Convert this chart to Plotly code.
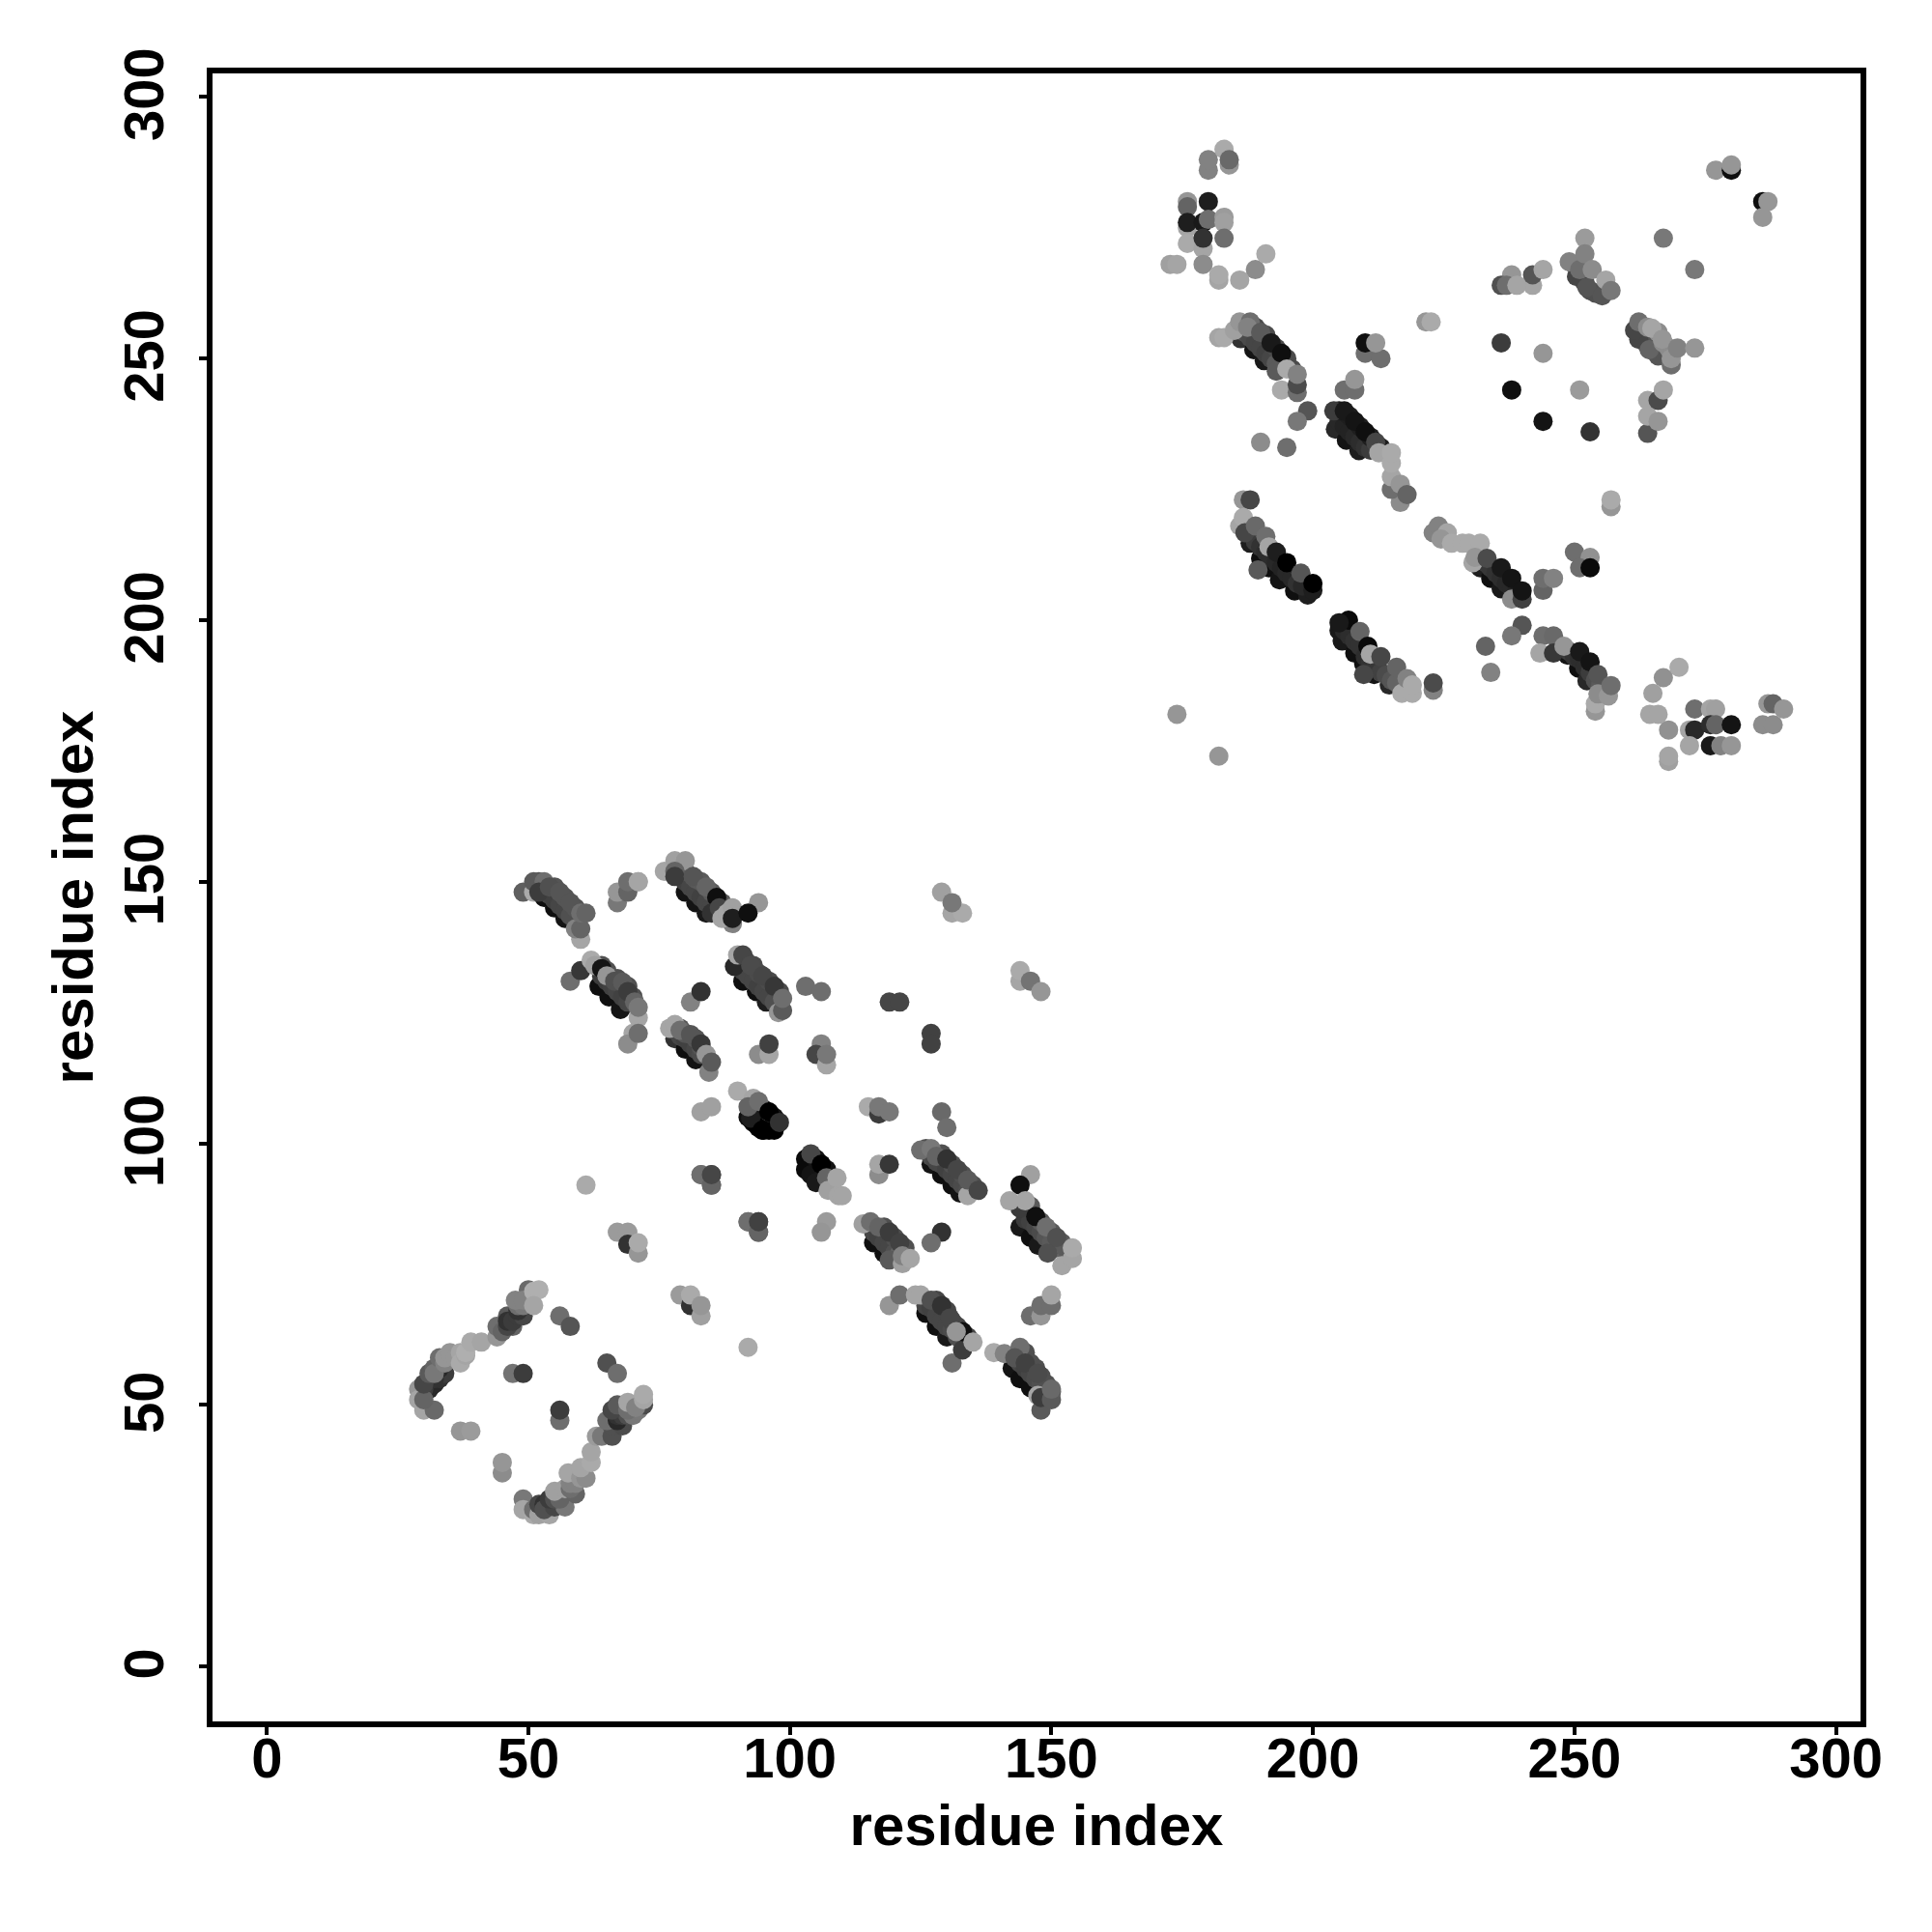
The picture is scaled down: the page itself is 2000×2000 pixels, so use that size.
import plotly.graph_objects as go

# Each point: (residue i, residue j, grey level 0-175)
arc_lower_left = [(30,52,50),(31,53,40),(32,54,40),(33,55,50),(34,56,60),(31,55,30),(33,57,40),(30,53,60),(32,55,50),(29,53,150),(29,51,165),(30,49,165),(32,49,105),(30,51,100),(30,54,70),(31,56,90),(32,57,100),(32,56,120),(33,59,110),(34,58,130),(34,59,150),(35,60,150),(36,59,150),(37,60,165),(37,58,170),(38,59.5,165),(38,60,175),(39,62,170),(41,62,165),(44,63,150),(44,65,110),(45,64,100),(46,67,90),(47,65,100),(46,65,70),(46,66,50),(47,66,60),(48,67,60),(49,67,70),(48,68,50),(48,69,110),(49,69,120),(47.5,70,130),(50,72,105),(49,70,130),(51,71.7,175),(52,72,175),(51,69,165)]
arc_lower_right = [(49,32,120),(49,30,165),(51,29,170),(51,30,110),(52,29,160),(54,29,165),(52,31,70),(53,31,50),(54,31,60),(53,30,80),(55,30.5,70),(57,30.5,120),(54,32,60),(56,33,40),(55,32,80),(56,32,100),(55,33.5,160),(57,34,160),(59,33,100),(58,34,110),(58,35,130),(59,35,130),(57.6,37,165),(60,36,150),(61,36,140),(60,38,165),(62,39,170),(62,41,165),(63,44,155),(64,44,120),(66,44,80),(66,46,80),(65,47,110),(68,46,75),(67,47,40),(67,48,50),(68,48,60),(69,48,80),(66,49,70),(67,50,90),(70,48,120),(71,49,120),(69,49,110),(70,50,110),(69,50.5,165),(72,50,75),(70.5,49.5,130),(72,51,165),(72,52,170)]
isolated_low = [(83,94,100),(85,92,105),(85,94,70),(92,85,110),(94,83,100),(94,85,65),(67,83,155),(69,83,155),(69,80.7,50),(71,79,150),(71,81,170),(79,71,155),(81,69,50),(81,71,170),(83,67,160),(83,69,150),(92,61,170),(56,67,110),(58,65,85),(47,56,115),(49,56,60),(65,58,80),(67,56,110),(56,47,110),(56,49,60),(37,45,150),(39,45,155),(45,37,140),(45,39,150),(61,92,170)]
strand_a = [(53,147,15),(55,145,15),(57,143,20),(53,148.5,65),(54,147.5,70),(55,146.5,65),(56,145.5,70),(57,144.5,70),(58,143.5,80),(52,150,85),(55,149,85),(57,147,85),(59,145,85),(49,148,95),(51,148,170),(51,150,90),(53,150,110),(52,148,60),(54,149,80),(56,148,85),(58,146,85),(60,139,165),(59,141,130),(60,141,100),(60,144,110),(61,144,100)]
cluster_a = [(71,150,165),(67,146,120),(67,148,150),(69,148,100),(69,150,110),(71,150,165)]
strand_b = [(80,148,20),(82,146,20),(84,144,25),(79,151,70),(80,150,65),(81,149,70),(82,148,70),(83,147,65),(84,146,70),(85,145,70),(79,153,90),(80,152,90),(82,150.5,90),(83,150,90),(85,148,90),(87,146,90),(76,152,165),(78,154,160),(80,154,150),(78,152,100),(78,151,60),(81.5,151,85),(84,149,100),(86,147,15),(85,144,50),(86.5,145,70),(89,142,130),(87,143,165),(88,144,165),(89,145,160),(89,143,30),(94,146,150),(92,144,15)]
top_right_a = [(129,148,160),(131,144,165),(133,144,170),(131,146,120),(144,131,165),(144,133,170),(146,131,115),(148,129,150)]
strand_c = [(63.5,130,15),(65.4,128,15),(67.6,125.6,20),(64,132,60),(65,131,60),(66,130,65),(67,129,70),(68,128,65),(69,127,70),(64,134,80),(65,133,80),(67,131.5,80),(69,130,80),(70,128,80),(58,131,110),(60,133,55),(62,135,170),(62.7,134,160),(64,133.4,20),(65,132,150),(66.5,131,80),(68,130.8,90),(69,129,60),(71,124,165),(70.3,127,100),(71,126,120),(70,121,165),(69,119,140),(71,121,110)]
strand_d = [(91,131,15),(93.6,129,15),(95.5,127,30),(91,133,65),(92,132,70),(93,131,70),(94,130,65),(95,129,70),(96,128,70),(97,127,80),(91.5,135,75),(93,134,75),(94,132.5,75),(96,131,75),(98,129,75),(89.4,133.8,40),(90,136,165),(91,136,70),(92.5,134,75),(94.8,132,70),(97,130,55),(97.8,125,150),(98.6,125.4,90),(98.6,127.7,110)]
mid_pairs = [(103,130,110),(106,129,110),(81,127,130),(83,129,50),(119,127,70),(121,127,70),(127,121,65),(127,119,65),(94,117,140),(96,117,165),(96,119,65),(106,119,130),(105,117,70),(107,115,165),(107,117,120)]
strand_e = [(78,120,50),(80,118,15),(82,116,20),(79,120.5,70),(80,120,65),(81,119,65),(82,118,70),(83,117,75),(79,122,85),(80,121,85),(82,120,85),(83,118.5,85),(77,122,165),(78,122.7,165),(79,121.6,110),(81,120.8,85),(83,119,55),(84.5,113.6,130),(84,117,150),(85,115.5,90)]
strand_f = [(92,105,15),(93,104,0),(94,103,0),(95,102.5,0),(96,102.5,0),(94,107,20),(95,106.5,20),(97,105,20),(92.5,104.8,30),(94.7,102.5,0),(97,102.5,0),(90,110,170),(93,108.6,165),(92,107,100),(94,108,110),(96,106,0),(98,104,50)]
mid_pairs_b = [(83,106,160),(85,107,160),(115,107,170),(117,105.6,60),(117,107,120),(119,106,120),(129,106,105),(130,103,110),(117,94,140),(117,96,165),(119,96,55),(83,94,110),(85,92,100),(85,94,70),(92,85,110),(94,83,100),(94,85,65),(107,85,155),(106,83,150),(129,83,50),(127,81,110)]
strand_g = [(127,96,20),(129,94,15),(131,92,15),(132.5,90.5,20),(127,97.5,75),(128,96.5,70),(129,96,70),(130,95,65),(131,94,70),(132,93,70),(133,92,75),(134,91,80),(126,99,80),(129,98,80),(131,96,80),(133,94,80),(135,92,80),(125,98.7,110),(127,99,120),(128,97.5,100),(130,97,50),(132,95,70),(134,90,165),(134,93,90),(136,91,70)]
strand_g2 = [(103,97,10),(103,95,10),(104,94,20),(105,92.5,25),(105,97,20),(107,95,20),(104,98,70),(106,96,0),(107,93.4,100),(107.3,91,160),(109.3,90,165),(110,90,165),(109,93.4,165)]
strand_h = [(144,84,25),(146,82,15),(147.5,80.5,25),(145,85.5,60),(146,85,65),(147,84,70),(148,83,75),(149,82,85),(150,81,90),(151,80,100),(146,88,90),(148,85,90),(150,83,90),(152,81,90),(153,79.5,90),(144,87.6,60),(146,94,160),(144,92,15),(142,89,165),(145,89,165),(147,86,15),(149,84,110),(149.3,79,80),(151,82,80),(152,76.6,165),(154,78,165),(154,80,170)]
strand_i = [(116,81,15),(118,79,15),(116,83,70),(117,82,65),(118,81,70),(119,80,70),(120,79,80),(121,79,100),(118,84,80),(120,82,80),(122,80,80),(119,77.7,90),(114,84.6,160),(115.4,85,110),(117,84,100),(119,83,60),(121,81,65),(121.5,77,160),(121.5,78.5,130),(123,78,165)]
strand_j = [(126,67.5,15),(128,65,15),(130,63,25),(126,69,70),(127,68.5,65),(128,67,70),(129,66,70),(130,65,70),(131,64.5,75),(132,63,80),(128,70,70),(130,68,70),(131,66,70),(132,65,70),(134,63,70),(119,69,150),(121,71,110),(124,71,165),(125,71,165),(127,70,80),(129,69,50),(130.6,66.6,70),(131,58,110),(133,60.5,60),(133,64,15),(131.8,64,150),(135,62,165)]
cluster_j = [(146,67,110),(148,67,150),(148,69,110),(150,69,110),(150,71,165)]
strand_k = [(142.5,57,20),(144,55,15),(146,53.3,15),(144,58,70),(145,57,65),(146,56,70),(147,55,75),(148,54,80),(149,52.5,90),(145,60,80),(146,58,80),(147,57,80),(148,55.5,80),(149,54,80),(150,52.5,80),(139,60,170),(141,59.8,130),(144,61,110),(143,59,85),(145,58,65),(147.4,56,75),(148,49,90),(147.4,51.8,165),(148,51.4,60),(150,51,90),(150,53,105)]
top_left_b = [(183,290,170),(180,286,130),(180,288,130),(184,287,150),(184,288,105),(176,280,150),(180,280,30),(176,275,165),(176,279,100),(176,276,30),(179,276,25),(180,276.6,110),(183,277,155),(183,276,160),(176,272,170),(179,271,165),(179,273,50),(183,273,110),(172.7,268,160),(174,268,165),(179,268,140),(182,265,165),(182,266,170),(186,265,165),(189,267,140),(191,270,170)]
strand_l = [(186.2,253.8,50),(188.7,251.7,20),(190.7,249.6,25),(187,255,80),(188,254,75),(189,253,70),(190,252,70),(191,251,65),(192,250,70),(193,249,90),(189,256,75),(191,254.5,75),(193,252,75),(195,250,75),(196,248,75),(182,254,165),(183,254,170),(185,255.4,160),(186,257,150),(188,257,110),(187.5,256,130),(190,255,90),(192,253,25),(194,251,15),(193,247.6,90),(194,244,170),(195,248,170),(197,243.5,110),(197,245,75),(197,247,130)]
pairs_c = [(210,251,110),(213,250,110),(210,253,15),(212,253,150),(206,244,110),(208,244,110),(208,246,150),(199,240,85),(197,238,120),(190,234,140),(195,233,110),(174,182,150),(182,174,150)]
strand_m = [(204.3,236.5,40),(206.4,234.4,20),(208.8,232.4,30),(205,238,40),(206,237,35),(207,236,35),(208,235,40),(209,234,45),(210,233,50),(211,232.5,60),(205,240,30),(207,239,30),(209,237,30),(211,235,30),(213,233,30),(204,240,60),(206,240,25),(208,238,20),(210,236,15),(212,234,70),(212.6,232,165),(216.7,222.5,140),(215,225,110),(215,227.4,165),(215,230,170),(215,232,170),(216.7,226,150),(218,224,100),(257,221.7,150),(257,223,170)]
strand_n = [(188,214.7,30),(190,211.8,15),(191.6,210,15),(193.6,207.7,20),(196.5,205.6,15),(199,204.8,30),(189,215,60),(190,214,50),(191,213,45),(192,212,45),(193,211,40),(194,210,35),(195,209,40),(196,208,40),(197,207,50),(198,206.5,40),(186.7,223,150),(188,223,70),(186,218,165),(186.7,219.6,170),(187,216.7,70),(189,218,105),(191,216,110),(189.5,209.6,90),(191.6,214,165),(193,213,30),(195,211,0),(197.7,209,85),(200,205.7,30),(200,207,0)]
strand_o = [(232,210,30),(234,208,15),(236,206,25),(238,204.5,30),(233,211,60),(234,210,55),(235,209,50),(236,208,45),(237,207,40),(238,206,40),(239,205.5,35),(223,216.7,130),(224,218,130),(225.7,216.7,165),(224.5,215.5,150),(226.5,214.7,170),(228.6,214.7,170),(229.8,214.7,170),(232,214.7,170),(230.6,211,165),(231,212,150),(233.3,211.8,75),(236,210,25),(238,208,20),(238,204,140),(240,204,65),(240,205.6,20)]
pairs_d = [(250,213,110),(253,212,145),(251,210,110),(253,210,10),(244,205.7,100),(244,208,110),(246,208,130),(240,199,85),(238,197,120),(233,195,100),(234,190,130)]
strand_p = [(248.7,193.3,20),(250.8,190.8,15),(252.4,188.4,40),(249,194,60),(250,193,50),(251,192.5,45),(252,191,45),(253,190,60),(254,188.5,80),(255,187.5,90),(244,197,110),(246,197,105),(243.4,193.7,165),(246,193.7,55),(248,195,150),(251,194,25),(253,192,20),(254,182.6,150),(254,184,170),(254.5,185.9,140),(254.5,189.6,85),(256.5,185.5,150),(257,187.5,110)]
strand_q = [(205,198,25),(205.6,196,25),(208,193.7,15),(209.7,191.7,15),(211.7,189.6,20),(214.6,187.6,40),(206,198,40),(207,197,45),(208,196,50),(209,195,50),(210,193,45),(211,192,50),(212,191,55),(213,190,65),(214,189.5,75),(215,188.5,85),(216,188,100),(209.7,189.6,70),(206.8,200,10),(205,199.5,25),(209,197.8,100),(210.5,195,10),(211,193.5,165),(213,193,70),(217,186,170),(219,186,170),(216,191,100),(218,188.8,130),(219,187.6,170),(223,186.6,130),(223,188,75)]
lower_right = [(270,191,170),(267,189,145),(265,186,160),(264.4,182,165),(266,182,165),(268,179,145),(268,173,160),(268,174,165),(273,183,110),(276,183,165),(277,183,160),(272,179,165),(273,179,40),(272,176,165),(276,176,25),(278,176,130),(280,176,150),(276,180,45),(277,180,100),(280,180,20),(287,184,150),(288,184,100),(290,183,150),(286,180,140),(288,180,140)]
top_right_b = [(277,286,150),(280,286,15),(280,287,150),(286,280,15),(287,280,150),(286,277,150),(267,273,120),(273,267,120)]
strand_r = [(250,268,80),(251,266,80),(252,264.5,80),(253,263,80),(254,262.5,80),(250.4,265.7,70),(252.4,263.6,85),(252,273,155),(249,268.5,130),(251,267,110),(252,270,130),(253.4,267,140),(255.3,262,85),(256,265,165),(257,263,120),(238,266,150),(236,264,80),(237,264,110),(242,264,165),(239,264,165),(242,266,85),(244,267,165)]
strand_s = [(262,255,85),(263,254,85),(264,252.5,85),(265,251.5,85),(266,250.5,85),(262.3,253.7,70),(264.3,251.7,100),(261.5,255.4,70),(262.3,257,110),(264,256,140),(266,255,140),(267,253,140),(268,252,140),(264.8,255.8,165),(266.8,253.7,150),(268.5,248.8,110),(268.5,250,150),(269.7,252,130),(273,252,150),(264,235.7,85),(264,239,165),(266,238,150),(264,242,165),(266,242,75),(267,244,165),(221.6,257,150),(222.6,257,170)]
ring_points = [(236,253,60),(244,251,150),(238,244,15),(251,244,155),(244,238,20),(253,236,50)]

groups = [arc_lower_left, arc_lower_right, isolated_low, strand_a, cluster_a, strand_b, top_right_a, strand_c, strand_d, mid_pairs, strand_e, strand_f, mid_pairs_b, strand_g, strand_g2, strand_h, strand_i, strand_j, cluster_j, strand_k, top_left_b, strand_l, pairs_c, strand_m, strand_n, strand_o, pairs_d, strand_p, strand_q, lower_right, top_right_b, strand_r, strand_s, ring_points]
tick_values = [0, 50, 100, 150, 200, 250, 300]
axis_title = "residue index"

pts = [p for g in groups for p in g]
fig = go.Figure(go.Scatter(
    x=[p[0] for p in pts], y=[p[1] for p in pts], mode="markers",
    marker=dict(size=20, line=dict(width=0), color=[p[2] for p in pts], cmin=0, cmax=175,
                colorscale=[[0, "rgb(0,0,0)"], [1, "rgb(175,175,175)"]], showscale=False),
    hoverinfo="skip"))

tick_font = dict(family="Liberation Sans", size=58, color="black", weight="bold")
title_font = dict(family="Liberation Sans", size=60, color="black", weight="bold")
axis = dict(tickmode="array", tickvals=tick_values, ticktext=[str(t) for t in tick_values],
            showline=True, linecolor="black", linewidth=6, mirror=True, ticks="outside",
            ticklen=8, tickwidth=4, tickcolor="black", showgrid=False, zeroline=False,
            tickfont=tick_font)
fig.update_layout(width=2000, height=2000, autosize=False, showlegend=False,
                  paper_bgcolor="white", plot_bgcolor="white",
                  margin=dict(l=212, r=82, t=68, b=226))
fig.update_xaxes(range=[-10.4, 304.7], ticklabelstandoff=-26,
                 title=dict(text=axis_title, font=title_font, standoff=19), **axis)
fig.update_yaxes(range=[-10.5, 304.5], tickangle=-90, ticklabelstandoff=14, ticklabelshift=6,
                 title=dict(text=axis_title, font=title_font, standoff=2), **axis)
fig.write_html("out.html")
